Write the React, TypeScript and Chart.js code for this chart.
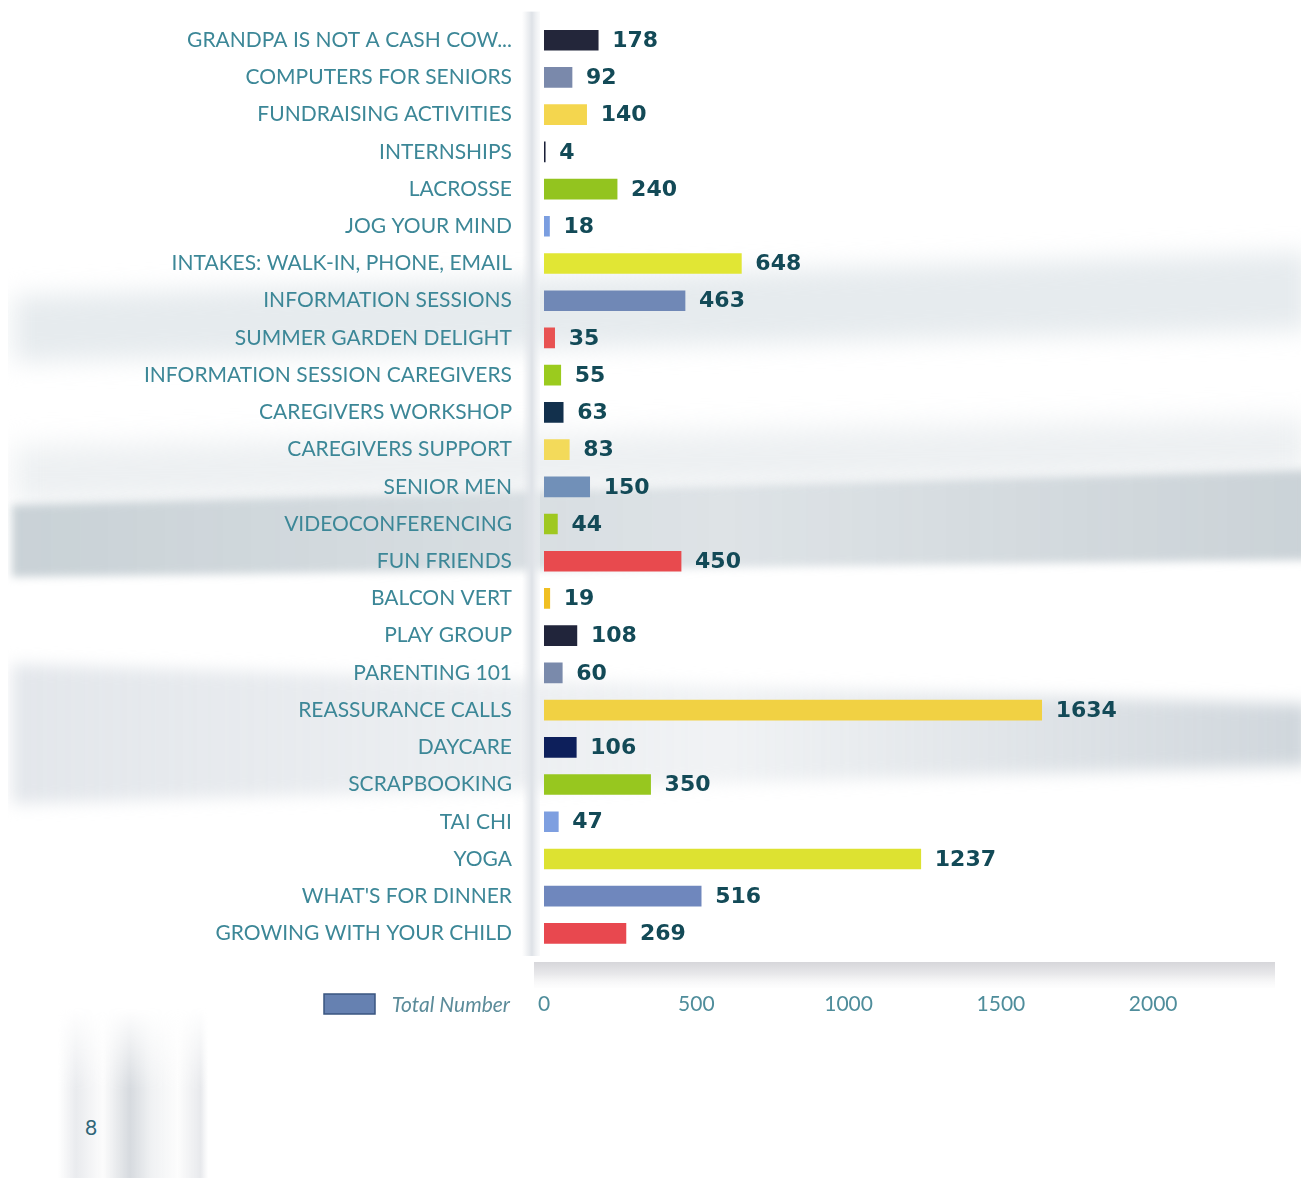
import { useEffect, useRef } from 'react'
import { Chart, registerables } from 'chart.js'
import type { Plugin } from 'chart.js'

Chart.register(...registerables)

const programs = [
  'GRANDPA IS NOT A CASH COW...',
  'COMPUTERS FOR SENIORS',
  'FUNDRAISING ACTIVITIES',
  'INTERNSHIPS',
  'LACROSSE',
  'JOG YOUR MIND',
  'INTAKES: WALK-IN, PHONE, EMAIL',
  'INFORMATION SESSIONS',
  'SUMMER GARDEN DELIGHT',
  'INFORMATION SESSION CAREGIVERS',
  'CAREGIVERS WORKSHOP',
  'CAREGIVERS SUPPORT',
  'SENIOR MEN',
  'VIDEOCONFERENCING',
  'FUN FRIENDS',
  'BALCON VERT',
  'PLAY GROUP',
  'PARENTING 101',
  'REASSURANCE CALLS',
  'DAYCARE',
  'SCRAPBOOKING',
  'TAI CHI',
  'YOGA',
  "WHAT'S FOR DINNER",
  'GROWING WITH YOUR CHILD',
]

const totals = [
  178, 92, 140, 4, 240, 18, 648, 463, 35, 55, 63, 83, 150, 44, 450, 19, 108, 60,
  1634, 106, 350, 47, 1237, 516, 269,
]

const barColors = [
  '#23263a', '#7a89ab', '#f4d64e', '#1b2038', '#93c41f', '#7b9ee0', '#e1e634',
  '#7088b6', '#e85252', '#9bcb1e', '#12304c', '#f3da5a', '#7190b8', '#9fc820',
  '#e84a4e', '#f0bf22', '#21253b', '#7a8aab', '#f1d143', '#0d1f5b', '#97c71f',
  '#7e9fe0', '#dde231', '#6f87bd', '#e8484f',
]

const xTicks = [0, 500, 1000, 1500, 2000]
const legendLabel = 'Total Number'
const pageNumber = '8'

const LABEL_FONT = 'Lato, "Noto Sans", sans-serif'
const VALUE_FONT = '"DejaVu Sans", sans-serif'

// value printed at the end of each bar
const valueLabels: Plugin<'bar'> = {
  id: 'valueLabels',
  afterDatasetsDraw(chart) {
    const { ctx } = chart
    const meta = chart.getDatasetMeta(0)
    ctx.save()
    ctx.font = 'bold 22px ' + VALUE_FONT
    ctx.fillStyle = '#134a57'
    ctx.textBaseline = 'middle'
    ctx.textAlign = 'left'
    meta.data.forEach((bar, i) => {
      const { x, y } = bar.getProps(['x', 'y'], true)
      ctx.fillText(String(totals[i]), x + 14, y + 1)
    })
    ctx.restore()
  },
}

// grey rule left of the bars, shaded band above the x labels, legend
const axisDecor: Plugin<'bar'> = {
  id: 'axisDecor',
  beforeDatasetsDraw(chart) {
    const { ctx, chartArea: a } = chart
    ctx.save()
    const vg = ctx.createLinearGradient(a.left - 22, 0, a.left - 4, 0)
    vg.addColorStop(0, 'rgba(226,229,233,0)')
    vg.addColorStop(0.55, 'rgba(222,226,231,1)')
    vg.addColorStop(1, 'rgba(240,242,244,0.4)')
    ctx.fillStyle = vg
    ctx.fillRect(a.left - 22, a.top - 10, 18, a.bottom - a.top + 14)

    const hg = ctx.createLinearGradient(0, a.bottom + 10, 0, a.bottom + 36)
    hg.addColorStop(0, 'rgba(214,214,218,1)')
    hg.addColorStop(0.5, 'rgba(234,234,236,1)')
    hg.addColorStop(1, 'rgba(250,250,250,0.3)')
    ctx.fillStyle = hg
    ctx.fillRect(a.left - 10, a.bottom + 10, a.right - a.left + 10, 26)
    ctx.restore()
  },
  afterDraw(chart) {
    const { ctx, chartArea: a } = chart
    const y = a.bottom + 52
    ctx.save()
    ctx.fillStyle = '#6681b1'
    ctx.strokeStyle = '#3a5580'
    ctx.lineWidth = 1.5
    ctx.fillRect(316, y - 10, 51, 20)
    ctx.strokeRect(316, y - 10, 51, 20)
    ctx.font = 'italic 21px ' + LABEL_FONT
    ctx.fillStyle = '#5c8c9a'
    ctx.textAlign = 'right'
    ctx.textBaseline = 'middle'
    ctx.fillText(legendLabel, 502, y + 1)
    ctx.restore()
  },
}

function ProgramChart() {
  const canvasRef = useRef<HTMLCanvasElement>(null)
  const chartRef = useRef<Chart | null>(null)

  useEffect(() => {
    if (!canvasRef.current) return
    chartRef.current?.destroy()

    chartRef.current = new Chart(canvasRef.current, {
      type: 'bar',
      data: {
        labels: programs,
        datasets: [
          {
            label: legendLabel,
            data: totals,
            backgroundColor: barColors,
            barThickness: 20,
            borderWidth: 0,
          },
        ],
      },
      options: {
        indexAxis: 'y',
        animation: false,
        responsive: true,
        maintainAspectRatio: false,
        layout: { padding: { top: 12, bottom: 24, right: 26, left: 0 } },
        plugins: {
          legend: { display: false },
          tooltip: { enabled: false },
        },
        scales: {
          x: {
            min: 0,
            max: 2400,
            afterFit: (axis) => {
              axis.height = 62
            },
            afterBuildTicks: (axis) => {
              axis.ticks = xTicks.map((v) => ({ value: v }))
            },
            grid: { display: false, drawTicks: false },
            border: { display: false },
            ticks: {
              color: '#4f8d9b',
              padding: 40,
              font: { family: LABEL_FONT, size: 21 },
              callback: (v) => String(v),
            },
          },
          y: {
            afterFit: (axis) => {
              axis.width = 536
            },
            grid: { display: false, drawTicks: false },
            border: { display: false },
            ticks: {
              color: '#3c8797',
              padding: 32,
              autoSkip: false,
              font: { family: LABEL_FONT, size: 21 },
            },
          },
        },
      },
      plugins: [axisDecor, valueLabels],
    })

    return () => {
      chartRef.current?.destroy()
      chartRef.current = null
    }
  }, [])

  return (
    <div style={{ position: 'relative', width: 1293, height: 1061 }}>
      <canvas ref={canvasRef} />
    </div>
  )
}

// soft scan shading behind the chart (page coordinates, minus the 8px margin)
function Shade({
  pts,
  background,
  blur,
}: {
  pts: [number, number][]
  background: string
  blur: number
}) {
  return (
    <div style={{ position: 'absolute', inset: 0, filter: `blur(${blur}px)` }}>
      <div
        style={{
          position: 'absolute',
          left: 0,
          top: 0,
          width: 1301,
          height: 1178,
          clipPath: `polygon(${pts.map(([x, y]) => `${x - 8}px ${y - 8}px`).join(',')})`,
          background,
        }}
      />
    </div>
  )
}

export default function App() {
  return (
    <div
      style={{
        position: 'relative',
        width: 1293,
        height: 1170,
        overflow: 'hidden',
        background: '#ffffff',
      }}
    >
      <Shade
        pts={[[14, 296], [1309, 252], [1309, 330], [14, 362]]}
        background="rgba(226,231,235,0.85)"
        blur={12}
      />
      <Shade
        pts={[[14, 446], [1309, 418], [1309, 474], [14, 505]]}
        background="rgba(230,234,237,0.7)"
        blur={14}
      />
      <Shade
        pts={[[12, 505], [1309, 470], [1309, 560], [12, 577]]}
        background="linear-gradient(to right, rgba(198,207,212,0.95), rgba(216,222,226,0.85) 55%, rgba(200,208,213,0.95))"
        blur={4}
      />
      <Shade
        pts={[[12, 664], [1309, 704], [1309, 766], [12, 804]]}
        background="linear-gradient(to right, rgba(224,228,233,0.9), rgba(234,237,240,0.7) 55%, rgba(205,212,218,0.95))"
        blur={8}
      />
      <div
        style={{
          position: 'absolute',
          left: 50,
          top: 1000,
          width: 150,
          height: 180,
          background:
            'linear-gradient(to right, rgba(255,255,255,0), rgba(228,230,234,0.8) 12%, rgba(250,250,250,0.6) 30%, rgba(212,216,221,0.95) 48%, rgba(236,238,240,0.8) 62%, rgba(250,250,250,0.5) 80%, rgba(226,228,232,0.8) 95%, rgba(255,255,255,0))',
          WebkitMaskImage: 'linear-gradient(to bottom, transparent, black 45%)',
          maskImage: 'linear-gradient(to bottom, transparent, black 45%)',
        }}
      />
      <div
        style={{
          position: 'absolute',
          left: 77,
          top: 1106,
          fontFamily: LABEL_FONT,
          fontSize: 21,
          color: '#2f6577',
        }}
      >
        {pageNumber}
      </div>
      <div style={{ position: 'absolute', left: 0, top: -31 }}>
        <ProgramChart />
      </div>
    </div>
  )
}
